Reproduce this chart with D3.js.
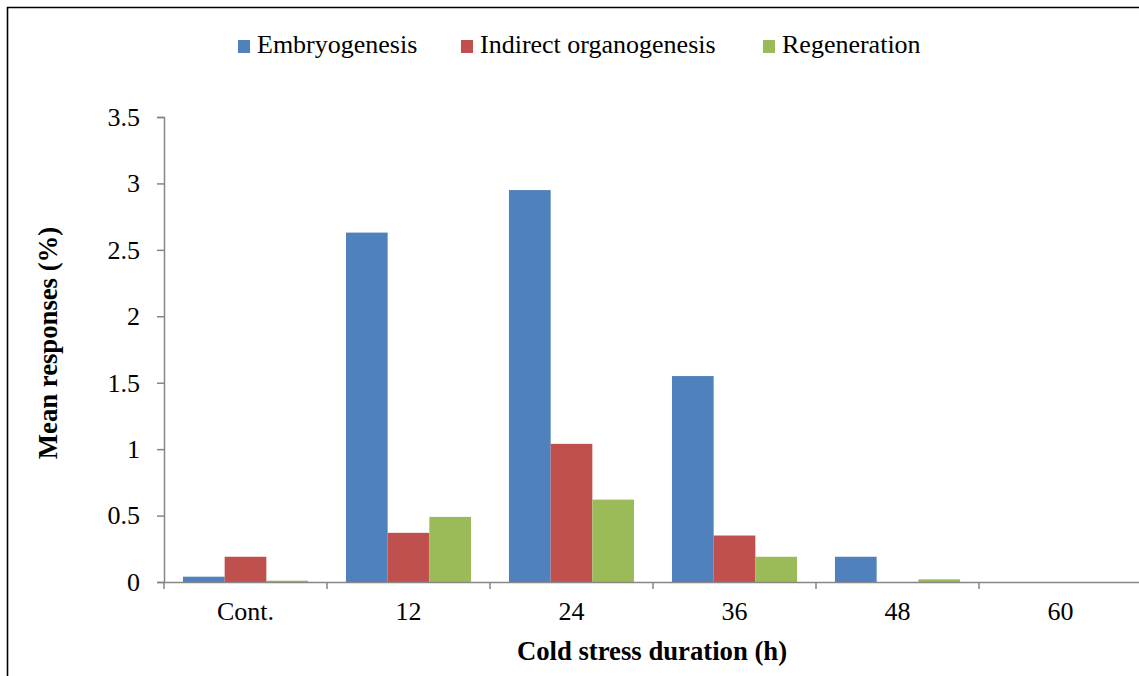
<!DOCTYPE html>
<html><head><meta charset="utf-8">
<script src="https://cdn.jsdelivr.net/npm/d3@7"></script>
<style>body{margin:0;background:#fff;} svg{display:block;}</style>
</head><body>
<script>
const categories = ["Cont.", "12", "24", "36", "48", "60"];
const seriesNames = ["Embryogenesis", "Indirect organogenesis", "Regeneration"];
const embryogenesis = [0.04, 2.63, 2.95, 1.55, 0.19, 0];
const organogenesis = [0.19, 0.37, 1.04, 0.35, 0, 0];
const regeneration = [0.01, 0.49, 0.62, 0.19, 0.02, 0];
const yTicks = [0, 0.5, 1, 1.5, 2, 2.5, 3, 3.5];
const yTickLabels = ["0", "0.5", "1", "1.5", "2", "2.5", "3", "3.5"];
const colors = ["#4F81BD", "#C0504D", "#9BBB59"];
const seriesValues = [embryogenesis, organogenesis, regeneration];

const W = 1139, H = 676;
const font = "'Liberation Serif','Times New Roman',serif";
const svg = d3.select("body").append("svg").attr("width", W).attr("height", H);

// frame lines
svg.append("line").attr("x1", 7).attr("x2", W).attr("y1", 7.5).attr("y2", 7.5).attr("stroke", "#000").attr("stroke-width", 1.6);
svg.append("line").attr("x1", 7.5).attr("x2", 7.5).attr("y1", 7).attr("y2", H).attr("stroke", "#000").attr("stroke-width", 1.6);

const x0 = 164, x1 = 1142, yTop = 117, yBot = 582;
const x = d3.scaleBand().domain(categories).range([x0, x1]).paddingInner(0).paddingOuter(0);
const y = d3.scaleLinear().domain([0, 3.5]).range([yBot, yTop]);
const gapRatio = 0.91;
const xs = d3.scaleBand().domain(d3.range(3)).range([x.bandwidth()*gapRatio/(3+gapRatio)/2, x.bandwidth() - x.bandwidth()*gapRatio/(3+gapRatio)/2]).padding(0);

const axisColor = "#868686";

// bars
categories.forEach((c, i) => {
  seriesValues.forEach((vals, s) => {
    const v = vals[i];
    if (v <= 0) return;
    svg.append("rect")
      .attr("x", x(c) + xs(s))
      .attr("y", y(v))
      .attr("width", xs.bandwidth())
      .attr("height", yBot - y(v))
      .attr("fill", colors[s]);
  });
});

// y axis
const yAxis = d3.axisLeft(y).tickValues(yTicks).tickFormat((d, i) => yTickLabels[i]).tickSize(7).tickPadding(17);
const gy = svg.append("g").attr("transform", `translate(${x0},0)`).call(yAxis);
gy.select(".domain").attr("stroke", axisColor).attr("stroke-width", 1.5);
gy.selectAll(".tick line").attr("stroke", axisColor).attr("stroke-width", 1.5);
gy.selectAll("text").attr("font-family", font).attr("font-size", 26).attr("fill", "#000");

// x axis
const xAxis = d3.axisBottom(x).tickSize(0).tickPadding(20);
const gx = svg.append("g").attr("transform", `translate(0,${yBot})`).call(xAxis);
gx.select(".domain").attr("stroke", axisColor).attr("stroke-width", 1.5);
gx.selectAll("text").attr("font-family", font).attr("font-size", 26).attr("fill", "#000");
// category boundary ticks
const bounds = categories.map(c => x(c)).concat([x1]);
gx.selectAll(".bt").data(bounds).enter().append("line")
  .attr("x1", d => d).attr("x2", d => d).attr("y1", 0).attr("y2", 7)
  .attr("stroke", axisColor).attr("stroke-width", 1.5);

// axis titles
svg.append("text").attr("x", 652).attr("y", 660).attr("text-anchor", "middle")
  .attr("font-family", font).attr("font-size", 26.7).attr("font-weight", "bold").text("Cold stress duration (h)");
svg.append("text").attr("transform", "translate(57,343) rotate(-90)").attr("text-anchor", "middle")
  .attr("font-family", font).attr("font-size", 26.7).attr("font-weight", "bold").text("Mean responses (%)");

// legend
const legendX = [238, 461, 763];
seriesNames.forEach((n, i) => {
  const g = svg.append("g").attr("transform", `translate(${legendX[i]},0)`);
  g.append("rect").attr("x", 0).attr("y", 40).attr("width", 12).attr("height", 13).attr("fill", colors[i]);
  g.append("text").attr("x", 19).attr("y", 53).attr("font-family", font).attr("font-size", 26).attr("fill", "#000").text(n);
});
</script>
</body></html>
